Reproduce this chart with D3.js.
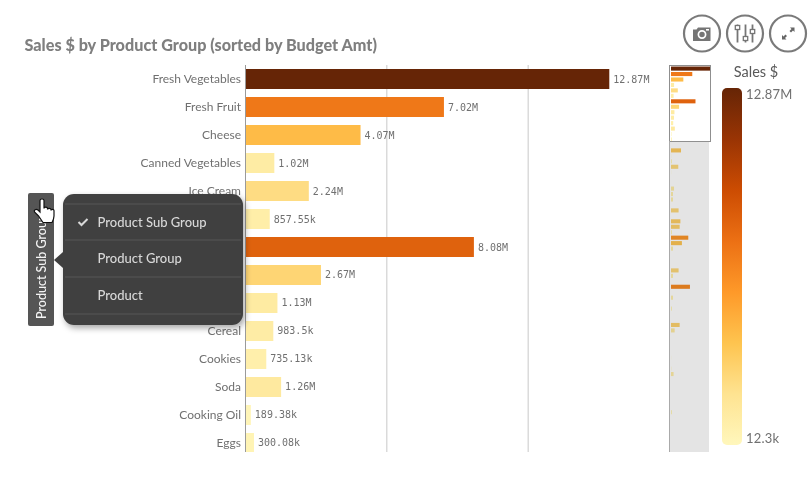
<!DOCTYPE html>
<html><head><meta charset="utf-8">
<script src="https://cdn.jsdelivr.net/npm/d3@7/dist/d3.min.js"></script>
<style>html,body{margin:0;padding:0;background:#fff}svg{display:block}text{font-family:"Lato","Open Sans",sans-serif}</style>
</head><body><div id="c"></div>
<script>
const categories=["Fresh Vegetables","Fresh Fruit","Cheese","Canned Vegetables","Ice Cream","","","","","Cereal","Cookies","Soda","Cooking Oil","Eggs"];
const sales=[12870000,7020000,4070000,1020000,2240000,857550,8080000,2670000,1130000,983500,735130,1260000,189380,300080];
const salesLabels=["12.87M","7.02M","4.07M","1.02M","2.24M","857.55k","8.08M","2.67M","1.13M","983.5k","735.13k","1.26M","189.38k","300.08k"];
const miniRest=[0,3300000,60000,300000,2400000,50000,0,0,1000000,660000,660000,0,2500000,0,3100000,2850000,300000,5700000,3600000,660000,0,0,0,2500000,660000,0,6250000,0,660000,0,300000,0,0,2850000,1200000,0,0,0,0,40000,0,100000,850000,0,0,0,0,0,0,300000,0,0,0,0,0,0,0];
const popupItems=["Product Sub Group","Product Group","Product"];
const rampStops=["#fff7bc","#fee391","#fec44f","#fe9929","#ec7014","#cc4c02","#993404","#662506"];
const xTicks=[0,5000000,10000000,15000000];
const legendDomain=[12300,12870000];

const W=812,H=477;
const svg=d3.select("#c").append("svg").attr("width",W).attr("height",H);
const defs=svg.append("defs");
const color=d3.scaleLinear().domain(rampStops.map((d,i)=>legendDomain[0]+(legendDomain[1]-legendDomain[0])*i/(rampStops.length-1))).range(rampStops);
const x=d3.scaleLinear().domain([0,15000000]).range([245.5,669.5]);
const y=d3.scaleBand().domain(d3.range(sales.length)).range([65,457]).paddingInner(0.2857).paddingOuter(0.1429);

// title
svg.append("text").attr("x",24.5).attr("y",51).attr("font-size",16.2).attr("font-weight",900).attr("fill","#7f7f7f").text("Sales $ by Product Group (sorted by Budget Amt)");

// plot clip
defs.append("clipPath").attr("id","plot").append("rect").attr("x",0).attr("y",65).attr("width",W).attr("height",387);
const plot=svg.append("g").attr("clip-path","url(#plot)");

// grid
plot.selectAll("line.g").data(xTicks.slice(1,3)).join("line").attr("x1",d=>x(d)).attr("x2",d=>x(d)).attr("y1",65).attr("y2",452).attr("stroke","#c8c8c8");

// bars
plot.selectAll("rect.b").data(sales).join("rect").attr("class","b").attr("x",x(0)).attr("y",(d,i)=>y(i)).attr("width",d=>x(d)-x(0)).attr("height",y.bandwidth()).attr("fill",d=>color(d));

// category labels
plot.selectAll("text.c").data(categories).join("text").attr("x",241).attr("y",(d,i)=>y(i)+y.bandwidth()/2+4).attr("text-anchor","end").attr("font-size",12).attr("fill","#707070").text(d=>d);
// value labels
plot.selectAll("text.v").data(sales).join("text").attr("x",d=>x(d)+4).attr("y",(d,i)=>y(i)+y.bandwidth()/2+3.5).attr("font-size",10).attr("style",'font-family:"DejaVu Sans Mono",monospace').attr("fill","#707070").text((d,i)=>salesLabels[i]);

// axis
svg.append("line").attr("x1",245.5).attr("x2",245.5).attr("y1",65).attr("y2",452).attr("stroke","#9a9a9a");

// minimap
const miniVals=sales.concat(miniRest);
const mx=d3.scaleLinear().domain([0,12870000]).range([671,710]);
const my=d3.scaleBand().domain(d3.range(miniVals.length)).range([66,453]).paddingInner(0.25).paddingOuter(0.1);
svg.selectAll("rect.m").data(miniVals).join("rect").attr("class","m").attr("x",mx(0)).attr("y",(d,i)=>my(i)).attr("width",d=>Math.max(0,mx(d)-mx(0))).attr("height",my.bandwidth()).attr("fill",d=>color(d)).attr("visibility",d=>d>0?"visible":"hidden");
svg.append("rect").attr("x",669).attr("y",141).attr("width",40).attr("height",311).attr("fill","#e4e4e4").style("mix-blend-mode","multiply");
svg.append("rect").attr("x",669.5).attr("y",65.5).attr("width",41).attr("height",76).attr("fill","none").attr("stroke","#8f8f8f");
svg.append("line").attr("x1",669.5).attr("x2",669.5).attr("y1",141).attr("y2",452).attr("stroke","#aaa");

// legend
const grad=defs.append("linearGradient").attr("id","lg").attr("x1",0).attr("y1",1).attr("x2",0).attr("y2",0);
rampStops.forEach((c,i)=>grad.append("stop").attr("offset",i/(rampStops.length-1)).attr("stop-color",c));
svg.append("rect").attr("x",722).attr("y",88).attr("width",20).attr("height",357).attr("rx",5).attr("fill","url(#lg)");
svg.append("text").attr("x",756).attr("y",77).attr("text-anchor","middle").attr("font-size",14.5).attr("fill","#595959").text("Sales $");
svg.append("text").attr("x",746).attr("y",99).attr("font-size",13).attr("letter-spacing",0.2).attr("fill","#707070").text("12.87M");
svg.append("text").attr("x",746).attr("y",443).attr("font-size",13).attr("letter-spacing",0.2).attr("fill","#707070").text("12.3k");

// buttons
const btnCx=[702,745,788];
svg.selectAll("circle.btn").data(btnCx).join("circle").attr("cx",d=>d).attr("cy",33.5).attr("r",18).attr("fill","#fff").attr("stroke","#7a7a7a").attr("stroke-width",2.2);
const icon=svg.append("g");
icon.append("path").attr("d","M693 29.500h3.500l1.500-2h12.500v13.500h-17.500z").attr("fill","#757575");
icon.append("circle").attr("cx",702).attr("cy",34.5).attr("r",3.6).attr("fill","#757575").attr("stroke","#fff").attr("stroke-width",1.7);
icon.append("rect").attr("x",706).attr("y",29).attr("width",3).attr("height",1.6).attr("fill","#fff");
[[737.5,27.5],[745.500,38.5],[752.5,31.5]].forEach(([cx,cy])=>{
 icon.append("line").attr("x1",cx).attr("x2",cx).attr("y1",24.5).attr("y2",42.5).attr("stroke","#757575").attr("stroke-width",1.8);
 icon.append("rect").attr("x",cx-2.2).attr("y",cy-2).attr("width",4.4).attr("height",4).attr("fill","#fff").attr("stroke","#757575").attr("stroke-width",1.3);
});
icon.append("path").attr("d","M794.500 27.500v4.500l-1.500-1.500-2 2-1.500-1.500 2-2-1.500-1.500zM782 39.500v-4.500l1.500 1.500 2-2 1.500 1.500-2 2 1.500 1.500z").attr("fill","#666");

// drill tab + popup
defs.append("filter").attr("id","sh").attr("x","-10%").attr("y","-10%").attr("width","125%").attr("height","125%").append("feDropShadow").attr("dx",2).attr("dy",3).attr("stdDeviation",3).attr("flood-color","#000").attr("flood-opacity",0.35);
svg.append("rect").attr("x",28).attr("y",193).attr("width",26).attr("height",133).attr("rx",2).attr("fill","#555");
svg.append("text").attr("transform","translate(45.5,319) rotate(-90)").attr("font-size",12.5).attr("font-weight",500).attr("fill","#f4f4f4").text("Product Sub Group");
svg.append("rect").attr("x",63).attr("y",194).attr("width",180).attr("height",131).attr("rx",11).attr("fill","#404040").attr("filter","url(#sh)");
svg.append("path").attr("d","M63 252l-9 8 9 8z").attr("fill","#404040");
const rowsY=[204,240,277,314];
svg.selectAll("line.p").data(rowsY).join("line").attr("x1",65).attr("x2",241).attr("y1",d=>d).attr("y2",d=>d).attr("stroke","#565656");
svg.selectAll("text.p").data(popupItems).join("text").attr("class","p").attr("x",97.5).attr("y",(d,i)=>[227,263,300][i]).attr("font-size",13).attr("font-weight",500).attr("fill","#d8d8d8").text(d=>d);
svg.append("path").attr("d","M78.500 222l3 3 6-6").attr("fill","none").attr("stroke","#d8d8d8").attr("stroke-width",2);

// hand cursor
svg.append("path").attr("d","M40 200.500c0-2 4-2 4 0v8c0-1.800 3.500-1.800 3.500 0v1c0-1.500 3.500-1.500 3.500 0v1c0-1.500 3-1.400 3 0v5.500c0 2.500-1 4.500-2 6.500h-9l-4.500-6.500-4-4c-1-2 1.500-3.500 3.500-2l2 2z").attr("fill","#fff").attr("stroke","#111").attr("stroke-width",1.2);
</script></body></html>
